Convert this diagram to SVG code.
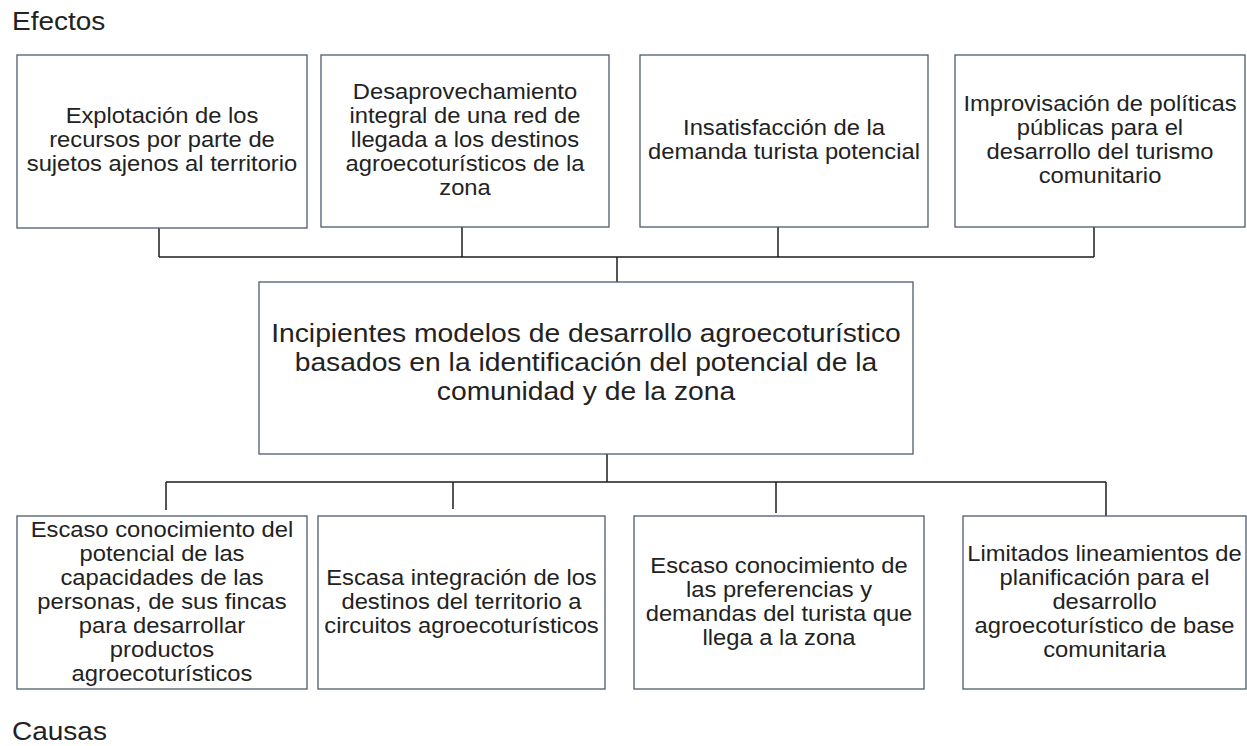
<svg xmlns="http://www.w3.org/2000/svg" width="1247" height="746" viewBox="0 0 1247 746">
<style>
.box{fill:#ffffff;stroke:#4f5b6e;stroke-width:1.3}
.t{font-family:"Liberation Sans",Arial,sans-serif;fill:#222222;text-anchor:middle}
.s{font-size:22px}
.c{font-size:26px}
.h{font-family:"Liberation Sans",Arial,sans-serif;fill:#222222;font-size:25px}
.ln{fill:none;stroke:#1e1e1e;stroke-width:1.5}
</style>
<rect width="1247" height="746" fill="#ffffff"/>
<g id="labels">
<text class="h" transform="translate(12 0) scale(1.12 1)" x="0" y="30">Efectos</text>
<text class="h" transform="translate(12 0) scale(1.12 1)" x="0" y="740">Causas</text>
</g>
<g id="connectors">
<path class="ln" d="M159 228V257M462 227V257M778 225V257M1094 227V257M159 257H1094M617 257V282"/>
<path class="ln" d="M607 454V482M166 482H1106M166 482V510M453 482V509M776 482V513M1106 482V516"/>
</g>
<g id="e1">
<rect class="box" x="17" y="55" width="290" height="173"/>
<text class="t s" transform="translate(162 0) scale(1.08 1)"><tspan x="0" y="122.7">Explotación de los</tspan><tspan x="0" y="146.7">recursos por parte de</tspan><tspan x="0" y="170.7">sujetos ajenos al territorio</tspan></text>
</g>
<g id="e2">
<rect class="box" x="321" y="55" width="288" height="172"/>
<text class="t s" transform="translate(465 0) scale(1.08 1)"><tspan x="0" y="98.7">Desaprovechamiento</tspan><tspan x="0" y="122.7">integral de una red de</tspan><tspan x="0" y="146.7">llegada a los destinos</tspan><tspan x="0" y="170.7">agroecoturísticos de la</tspan><tspan x="0" y="194.7">zona</tspan></text>
</g>
<g id="e3">
<rect class="box" x="640" y="55" width="288" height="172"/>
<text class="t s" transform="translate(784 0) scale(1.08 1)"><tspan x="0" y="134.7">Insatisfacción de la</tspan><tspan x="0" y="158.7">demanda turista potencial</tspan></text>
</g>
<g id="e4">
<rect class="box" x="955" y="55" width="290" height="172"/>
<text class="t s" transform="translate(1100 0) scale(1.08 1)"><tspan x="0" y="110.7">Improvisación de políticas</tspan><tspan x="0" y="134.7">públicas para el</tspan><tspan x="0" y="158.7">desarrollo del turismo</tspan><tspan x="0" y="182.7">comunitario</tspan></text>
</g>
<g id="problema">
<rect class="box" x="259" y="282" width="654" height="172"/>
<text class="t c" transform="translate(586 0) scale(1.087 1)"><tspan x="0" y="342">Incipientes modelos de desarrollo agroecoturístico</tspan><tspan x="0" y="371">basados en la identificación del potencial de la</tspan><tspan x="0" y="400">comunidad y de la zona</tspan></text>
</g>
<g id="c1">
<rect class="box" x="17" y="516" width="290" height="173"/>
<text class="t s" transform="translate(162 0) scale(1.08 1)"><tspan x="0" y="536.7">Escaso conocimiento del</tspan><tspan x="0" y="560.7">potencial de las</tspan><tspan x="0" y="584.7">capacidades de las</tspan><tspan x="0" y="608.7">personas, de sus fincas</tspan><tspan x="0" y="632.7">para desarrollar</tspan><tspan x="0" y="656.7">productos</tspan><tspan x="0" y="680.7">agroecoturísticos</tspan></text>
</g>
<g id="c2">
<rect class="box" x="318" y="516" width="287" height="173"/>
<text class="t s" transform="translate(461.5 0) scale(1.08 1)"><tspan x="0" y="584.7">Escasa integración de los</tspan><tspan x="0" y="608.7">destinos del territorio a</tspan><tspan x="0" y="632.7">circuitos agroecoturísticos</tspan></text>
</g>
<g id="c3">
<rect class="box" x="634" y="516" width="290" height="173"/>
<text class="t s" transform="translate(779 0) scale(1.08 1)"><tspan x="0" y="572.7">Escaso conocimiento de</tspan><tspan x="0" y="596.7">las preferencias y</tspan><tspan x="0" y="620.7">demandas del turista que</tspan><tspan x="0" y="644.7">llega a la zona</tspan></text>
</g>
<g id="c4">
<rect class="box" x="963" y="516" width="283" height="173"/>
<text class="t s" transform="translate(1104.5 0) scale(1.08 1)"><tspan x="0" y="560.7">Limitados lineamientos de</tspan><tspan x="0" y="584.7">planificación para el</tspan><tspan x="0" y="608.7">desarrollo</tspan><tspan x="0" y="632.7">agroecoturístico de base</tspan><tspan x="0" y="656.7">comunitaria</tspan></text>
</g>
</svg>
